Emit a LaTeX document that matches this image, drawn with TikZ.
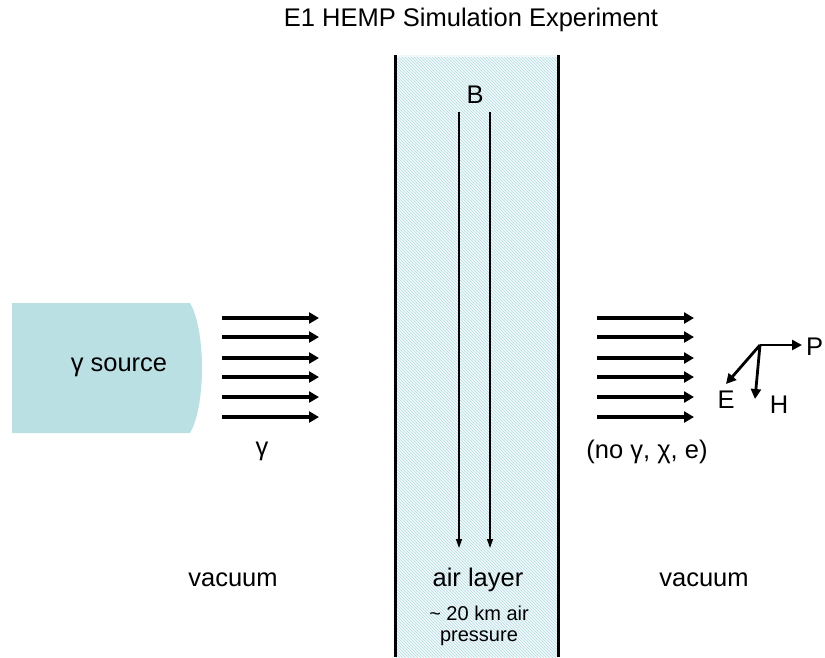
\documentclass[tikz,border=0pt]{standalone}
\usepackage{fontspec}
\setmainfont{Liberation Sans}
\usetikzlibrary{arrows.meta,patterns}
\definecolor{srccol}{HTML}{BAE0E3}
\definecolor{airfill}{HTML}{F1F9FA}
\definecolor{airhatch}{HTML}{B5DEE3}
\begin{document}
\begin{tikzpicture}[x=1pt,y=-1pt,
  lbl/.style={font=\fontsize{25.5}{28}\selectfont, inner sep=0pt},
  smalllbl/.style={font=\fontsize{20}{22}\selectfont, inner sep=0pt},
  ray/.style={line width=3.6pt, -{Triangle[length=10pt,width=11pt]}},
  field/.style={line width=2.8pt, -{Triangle[length=10pt,width=10pt]}},
  bfield/.style={line width=1.2pt, -{Triangle[length=9pt,width=6pt]}},
  wall/.style={line width=3pt}]
\useasboundingbox (0,0) rectangle (825,657);
% air layer
\fill[airfill] (395,55) rectangle (558,657);
\fill[pattern=north west lines, pattern color=airhatch] (396,57) rectangle (557,657);
\draw[wall] (395,55) coordinate (wl1) -- (395,657) coordinate (wl2);
\draw[wall] (558,55) coordinate (wr1) -- (558,657) coordinate (wr2);
% title
\node[lbl] (title) at (471,20) {E1 HEMP Simulation Experiment};
% source
\fill[srccol] (12,303) -- (190,303) .. controls (206,330) and (206,406) .. (190,433) -- (12,433) -- cycle;
\node[lbl] (src) at (119,367) {γ source};
% rays
\foreach \yy [count=\i] in {318,337,358,377,397,417}{
  \coordinate (la\i) at (222,\yy);
  \coordinate (lb\i) at (319,\yy);
  \draw[ray] (la\i) -- (lb\i);
  \coordinate (ra\i) at (597,\yy);
  \coordinate (rb\i) at (694,\yy);
  \draw[ray] (ra\i) -- (rb\i);
}
\node[lbl] (gam) at (262,451) {γ};
\node[lbl] (nog) at (647,452) {(no γ, χ, e)};
% B field
\node[lbl] (B) at (475,95) {B};
\coordinate (b1t) at (459,112); \coordinate (b1b) at (459,548);
\coordinate (b2t) at (490,112); \coordinate (b2b) at (490,548);
\draw[bfield] (b1t) -- (b1b);
\draw[bfield] (b2t) -- (b2b);
% axes
\coordinate (o) at (760,345);
\coordinate (pt) at (802,345);
\coordinate (et) at (726,384);
\coordinate (ht) at (755,399);
\draw[field] (o) -- (pt);
\draw[field] (o) -- (et);
\draw[field] (o) -- (ht);
\node[lbl,anchor=west] (P) at (806,347) {P};
\node[lbl] (E) at (726,400) {E};
\node[lbl] (H) at (779,405) {H};
% bottom labels
\node[lbl] (vac1) at (233,580) {vacuum};
\node[lbl] (vac2) at (704,580) {vacuum};
\node[lbl] (air) at (478,580) {air layer};
\node[smalllbl] (km) at (479,613) {\textasciitilde{} 20 km air};
\node[smalllbl] (pr) at (479,638) {pressure};
\end{tikzpicture}
\end{document}
